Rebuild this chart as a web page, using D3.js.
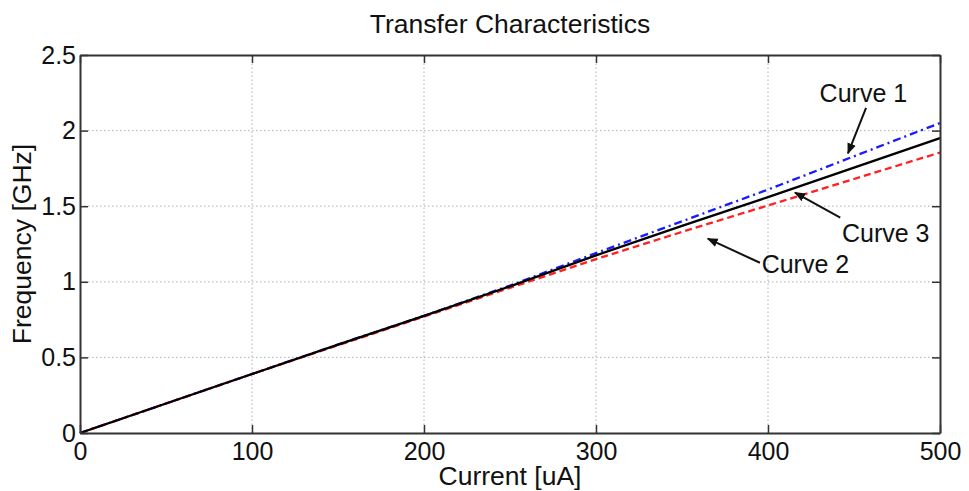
<!DOCTYPE html>
<html>
<head>
<meta charset="utf-8">
<script src="https://cdn.jsdelivr.net/npm/d3@7"></script>
<style>
  body { margin: 0; background: #fff; }
  text { font-family: "Liberation Sans", Arial, sans-serif; fill: #111; }
</style>
</head>
<body>
<svg id="chart"></svg>
<script>
// DATA
const current = [0, 50, 100, 150, 200, 250, 300, 350, 400, 450, 500]
const curve1 = [0, 0.195, 0.39, 0.585, 0.775, 0.975, 1.19, 1.40, 1.61, 1.83, 2.05]
const curve2 = [0, 0.195, 0.39, 0.58, 0.77, 0.96, 1.15, 1.33, 1.505, 1.68, 1.855]
const curve3 = [0, 0.195, 0.39, 0.585, 0.775, 0.97, 1.175, 1.37, 1.56, 1.755, 1.95]
const xTicks = [0, 100, 200, 300, 400, 500]
const yTicks = [0, 0.5, 1, 1.5, 2, 2.5]
const labels = ['Curve 1', 'Curve 2', 'Curve 3']
// annotation: text anchor and arrow tail/head, in data units
const notes = [
  { label: 'Curve 1', tx: 430, ty: 2.19, x1: 457, y1: 2.15, x2: 446.5, y2: 1.85 },
  { label: 'Curve 3', tx: 443, ty: 1.265, x1: 442, y1: 1.424, x2: 415.7, y2: 1.59 },
  { label: 'Curve 2', tx: 396.3, ty: 1.06, x1: 395.3, y1: 1.126, x2: 365, y2: 1.285 }
]

const width = 969
const height = 491
const margin = { top: 55, right: 29, bottom: 58, left: 80 }

const svg = d3.select('#chart').attr('width', width).attr('height', height)

const x = d3.scaleLinear().domain([0, 500]).range([margin.left, width - margin.right])
const y = d3.scaleLinear().domain([0, 2.5]).range([height - margin.bottom, margin.top])

svg.append('defs').append('marker')
  .attr('id', 'arrow')
  .attr('viewBox', '0 0 10 10')
  .attr('refX', 9).attr('refY', 5)
  .attr('markerWidth', 5.5).attr('markerHeight', 5.5)
  .attr('markerUnits', 'strokeWidth')
  .attr('orient', 'auto')
  .append('path').attr('d', 'M0,1 L10,5 L0,9 z').attr('fill', '#111')

// GRID
const grid = svg.append('g').attr('class', 'grid')
grid.selectAll('.vg').data(xTicks.slice(1, -1)).enter().append('line')
  .attr('x1', d => x(d)).attr('x2', d => x(d))
  .attr('y1', y(0)).attr('y2', y(2.5))
grid.selectAll('.hg').data(yTicks.slice(1, -1)).enter().append('line')
  .attr('y1', d => y(d)).attr('y2', d => y(d))
  .attr('x1', x(0)).attr('x2', x(500))
grid.selectAll('line')
  .attr('stroke', '#bdbdbd').attr('stroke-width', 1.2).attr('stroke-dasharray', '1.5,2.5')

// CURVES
const series = [
  { name: labels[0], values: curve1, color: '#1a1aff', dash: '8,4,2,4' },
  { name: labels[1], values: curve2, color: '#ff2020', dash: '7,4' },
  { name: labels[2], values: curve3, color: '#000', dash: null }
]
const line = d3.line().x((d, i) => x(current[i])).y(d => y(d))
svg.selectAll('.curve').data(series).enter().append('path')
  .attr('class', 'curve')
  .attr('d', d => line(d.values))
  .attr('fill', 'none')
  .attr('stroke', d => d.color)
  .attr('stroke-width', 2.3)
  .attr('stroke-dasharray', d => d.dash)

// AXES (box with inward ticks on all sides)
const tickLen = 8
const axisColor = '#333'
const fmt = d => String(d)
svg.append('g').attr('transform', `translate(0,${y(0)})`)
  .call(d3.axisBottom(x).tickValues(xTicks).tickFormat(fmt).tickSizeInner(-tickLen).tickSizeOuter(0).tickPadding(9))
svg.append('g').attr('transform', `translate(0,${y(2.5)})`)
  .call(d3.axisTop(x).tickValues(xTicks).tickSizeInner(-tickLen).tickSizeOuter(0).tickFormat(''))
svg.append('g').attr('transform', `translate(${x(0)},0)`)
  .call(d3.axisLeft(y).tickValues(yTicks).tickFormat(fmt).tickSizeInner(-tickLen).tickSizeOuter(0).tickPadding(4))
svg.append('g').attr('transform', `translate(${x(500)},0)`)
  .call(d3.axisRight(y).tickValues(yTicks).tickSizeInner(-tickLen).tickSizeOuter(0).tickFormat(''))
svg.selectAll('.domain').attr('stroke', axisColor).attr('stroke-width', 2)
svg.selectAll('.tick line').attr('stroke', axisColor).attr('stroke-width', 1.5)
svg.selectAll('.tick text')
  .attr('font-size', 25)
  .attr('font-family', '"Liberation Sans", Arial, sans-serif')
  .attr('fill', '#111')

// ANNOTATIONS
svg.selectAll('.arrow').data(notes).enter().append('line')
  .attr('x1', d => x(d.x1)).attr('y1', d => y(d.y1))
  .attr('x2', d => x(d.x2)).attr('y2', d => y(d.y2))
  .attr('stroke', '#111').attr('stroke-width', 2)
  .attr('marker-end', 'url(#arrow)')
svg.selectAll('.note').data(notes).enter().append('text')
  .attr('x', d => x(d.tx)).attr('y', d => y(d.ty))
  .attr('font-size', 25)
  .text(d => d.label)

// TITLES
svg.append('text')
  .attr('x', (x(0) + x(500)) / 2).attr('y', 33)
  .attr('text-anchor', 'middle').attr('font-size', 26.5)
  .text('Transfer Characteristics')
svg.append('text')
  .attr('x', (x(0) + x(500)) / 2).attr('y', 485)
  .attr('text-anchor', 'middle').attr('font-size', 26.5)
  .text('Current [uA]')
svg.append('text')
  .attr('transform', `translate(31,${(y(0) + y(2.5)) / 2}) rotate(-90)`)
  .attr('text-anchor', 'middle').attr('font-size', 26.5)
  .text('Frequency [GHz]')
</script>
</body>
</html>
